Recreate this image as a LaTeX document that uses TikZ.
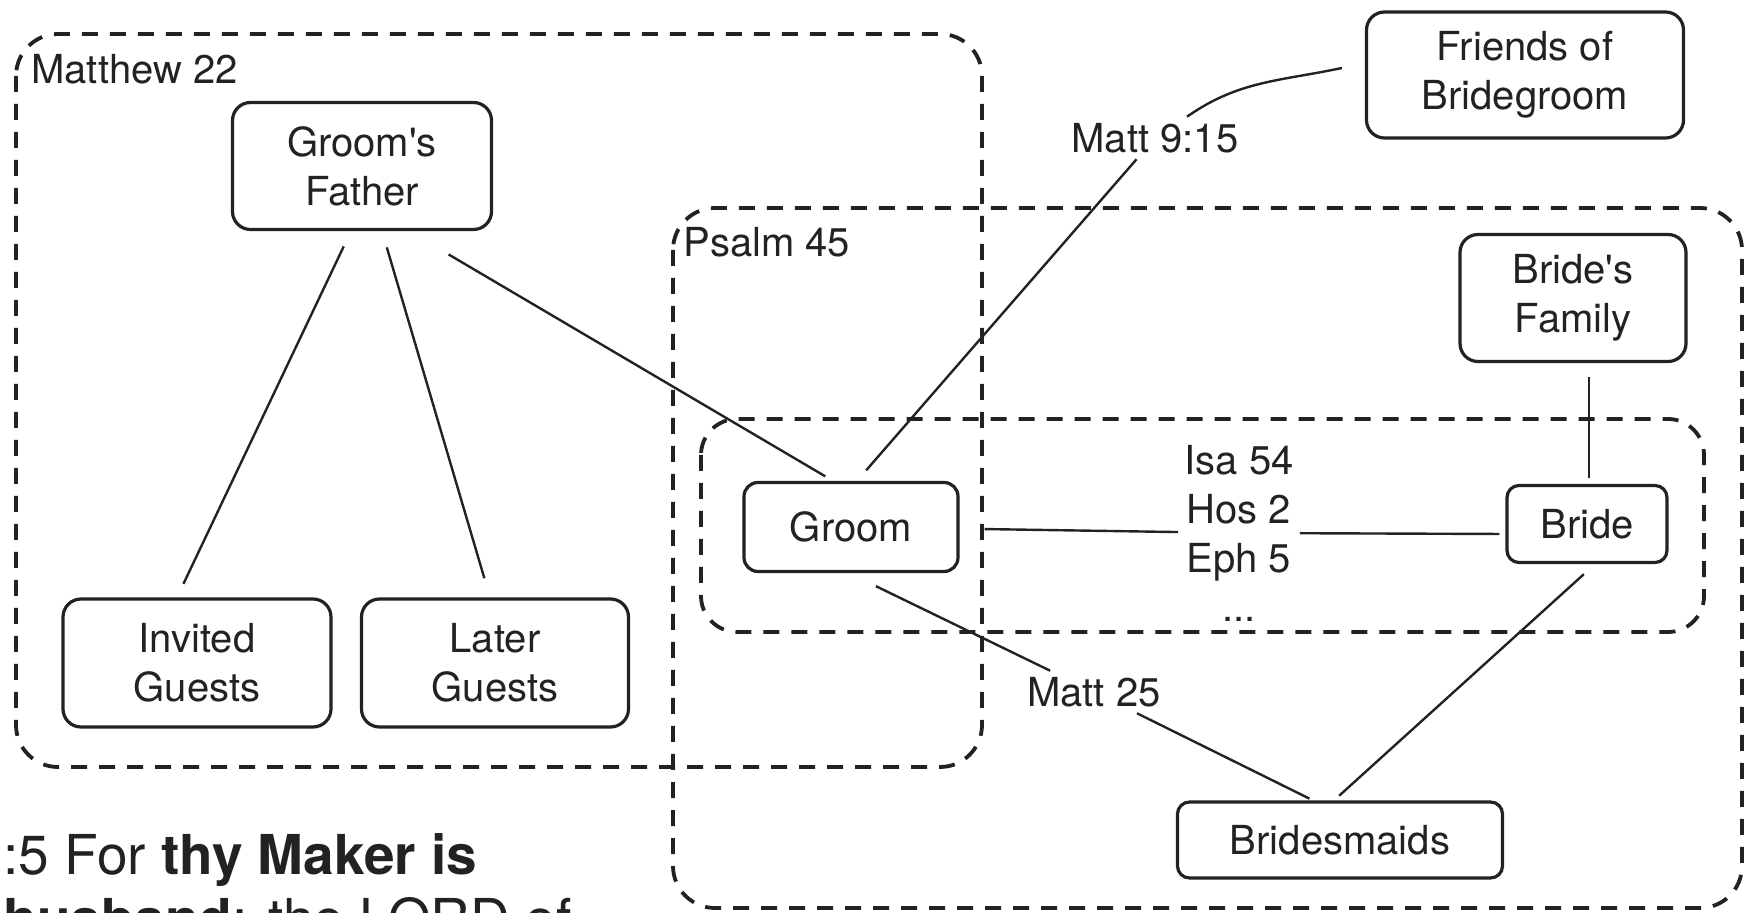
\documentclass[tikz,border=0pt]{standalone}
\usepackage{fontspec}
\setmainfont{TeX Gyre Heros}
\usetikzlibrary{positioning,calc}
\newcommand{\lblfont}{\fontsize{20}{24.5}\selectfont}
\definecolor{ink}{HTML}{222222}

\begin{document}
\begin{tikzpicture}[x=0.5pt, y=-0.5pt, color=ink,
    person/.style={draw, rounded corners=9pt, line width=1.6pt, align=center, inner sep=0pt, font=\lblfont},
    zone/.style={draw, dash pattern=on 8pt off 6pt, line width=1.9pt, rounded corners=21pt},
    zonelabel/.style={anchor=west, fill=white, inner sep=1pt, font=\lblfont},
    ref/.style={align=center, inner sep=3pt, font=\lblfont},
    tie/.style={line width=1.2pt}]
    \useasboundingbox (0,0) rectangle (1745,913);

    % Dashed regions
    \draw[zone] (16,34) rectangle (982,767);
    \draw[zone] (673,208) rectangle (1742,908);
    \draw[zone, rounded corners=18pt] (701,419) rectangle (1704,632);
    \node[zonelabel] (matt22) at (29,69) {Matthew 22};
    \node[zonelabel] (ps45) at (681,242) {Psalm 45};

    % People
    \node[person, minimum width=129.5pt, minimum height=63.5pt] (gfather) at (362,166) {Groom\textquotesingle s\\Father};
    \node[person, minimum width=134pt, minimum height=64pt] (invited) at (197,663) {Invited\\Guests};
    \node[person, minimum width=133.5pt, minimum height=64pt] (later) at (495,663) {Later\\Guests};
    \node[person, minimum width=158.5pt, minimum height=63pt] (friends) at (1525,75) {Friends of\\Bridegroom};
    \node[person, minimum width=113pt, minimum height=63.5pt] (bfamily) at (1573,298) {Bride\textquotesingle s\\Family};
    \node[person, rounded corners=7pt, minimum width=107pt, minimum height=44.5pt] (groom) at (851,527) {Groom};
    \node[person, rounded corners=6pt, minimum width=80pt, minimum height=38.5pt] (bride) at (1587,524) {Bride};
    \node[person, rounded corners=6pt, minimum width=162.5pt, minimum height=38pt] (maids) at (1340,840) {Bridesmaids};

    % References
    \node[ref] (m915) at (1155,138) {Matt 9:15};
    \node[ref] (m25) at (1094,692) {Matt 25};
    \node[ref] (isa) at (1239,533) {Isa 54\\Hos 2\\Eph 5\\...};

    % Links
    \draw[tie, shorten <=8.5pt, shorten >=7.5pt] ([xshift=-5.5pt]gfather.south) -- ([xshift=-10pt]invited.north);
    \draw[tie, shorten <=8.5pt, shorten >=10pt] ([xshift=10pt]gfather.south) -- ([xshift=-2.5pt]later.north);
    \draw[tie, shorten <=23pt, shorten >=4.5pt] ([xshift=23.5pt]gfather.south) -- ([xshift=-9pt]groom.north);
    \draw[tie, shorten <=7pt] ([xshift=3pt]groom.north) -- (m915);
    \draw[tie] ([xshift=16pt]m915.north) to[out=35, in=192] ([xshift=-11.5pt, yshift=3.5pt]friends.west);
    \draw[tie, shorten <=12.5pt] (groom) -- (isa);
    \draw[tie, shorten >=3pt] (isa) -- ([yshift=-5pt]bride.west);
    \draw[tie, shorten <=15pt] ([xshift=-1pt]groom.south) -- (m25);
    \draw[tie, shorten >=2pt] (m25) -- ([xshift=-13.5pt]maids.north);
    \draw[tie, shorten <=7.5pt, shorten >=3.5pt] ([xshift=4pt]bride.south) -- ([xshift=-3pt]maids.north);
    \draw[tie, shorten <=7pt, shorten >=3pt] ([xshift=8pt]bfamily.south) -- ([xshift=1pt]bride.north);

    % Quoted verse, cut by the frame
    \node[anchor=north west, align=left, inner sep=0pt, font=\fontsize{27.5}{32}\selectfont] (verse) at (3,833)
        {:5 For \textbf{thy Maker is}\\\textbf{husband}: the LORD of};
\end{tikzpicture}
\end{document}
